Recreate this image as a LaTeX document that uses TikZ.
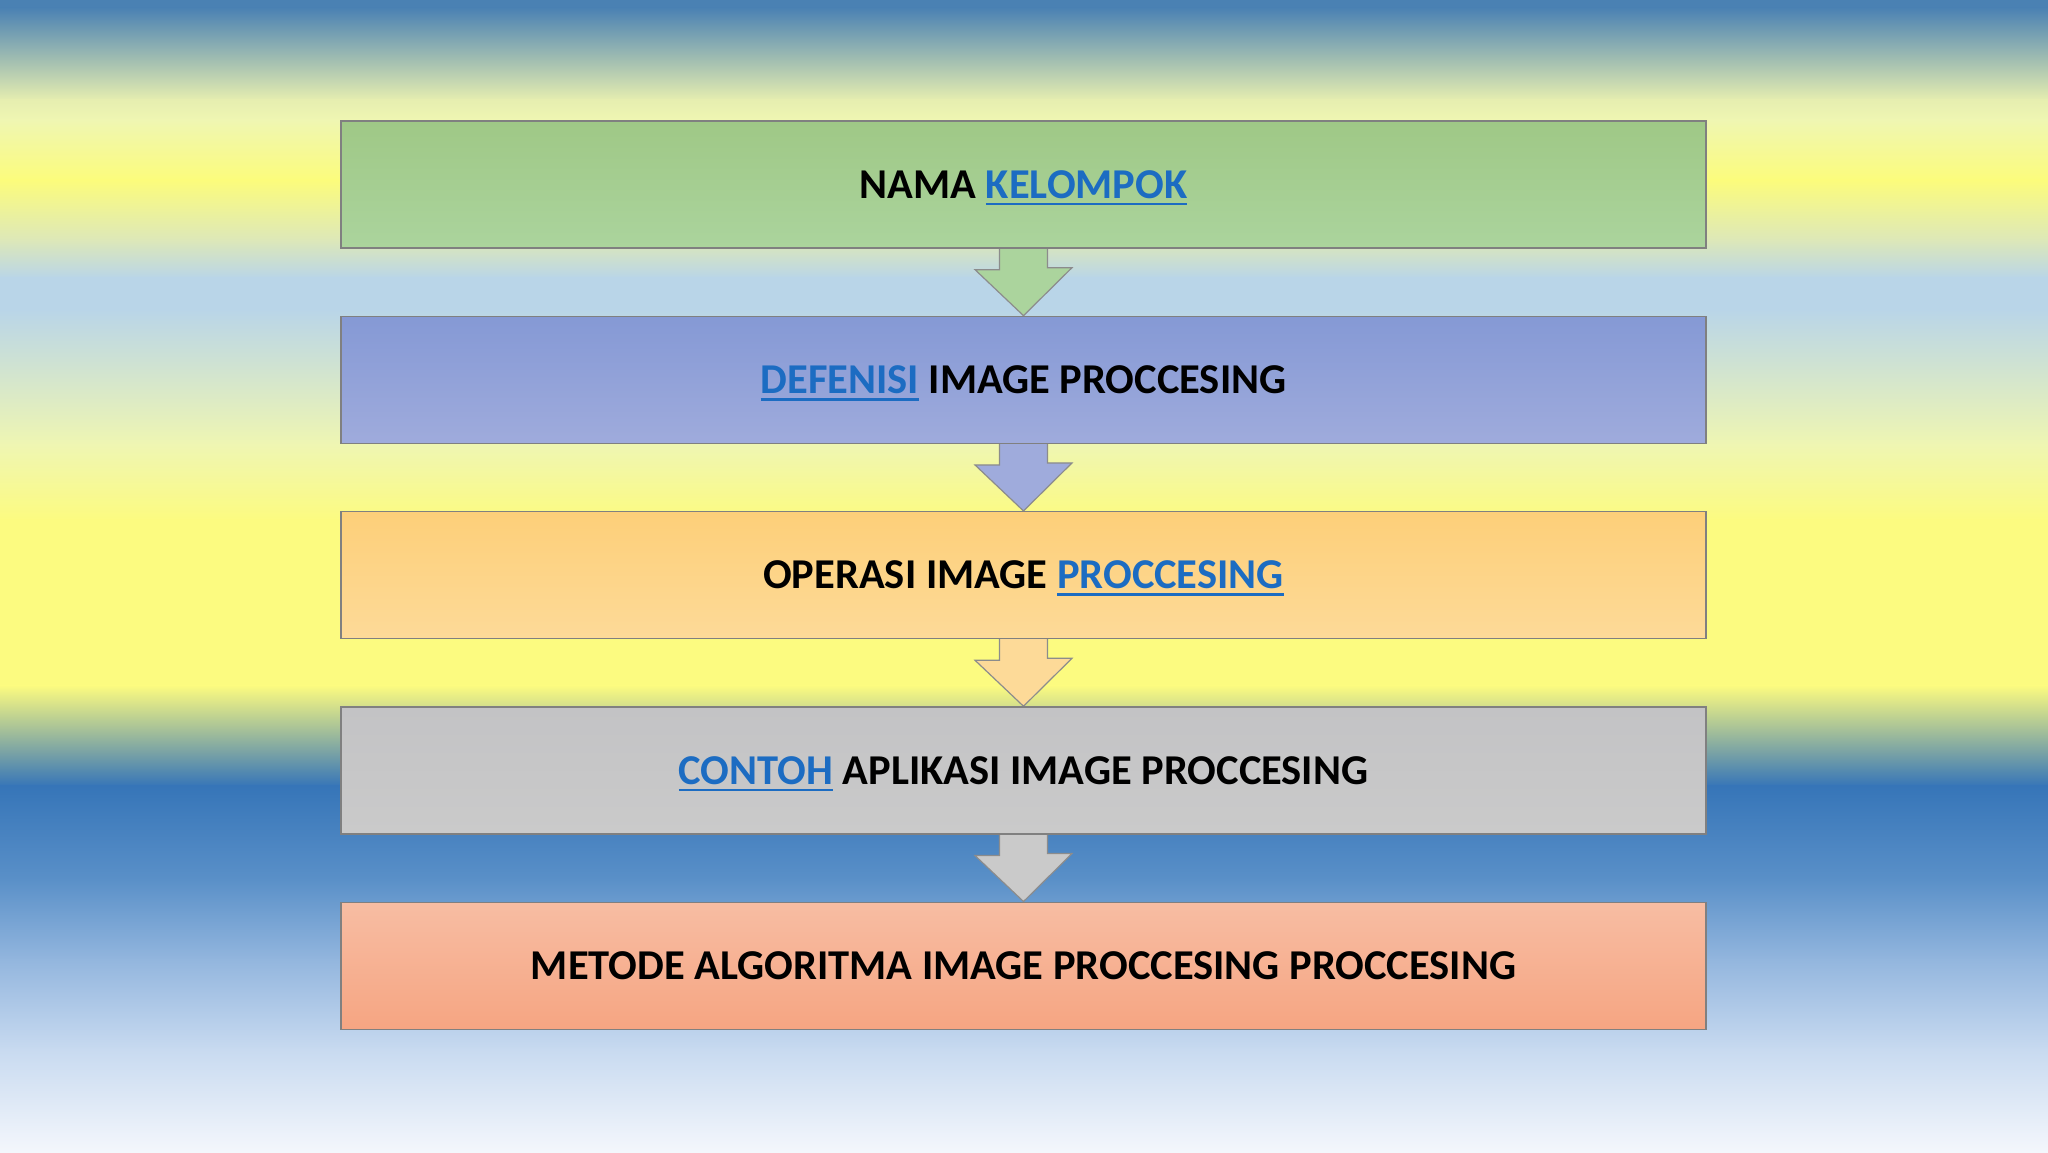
\documentclass[tikz,border=0pt]{standalone}
\usepackage{fontspec}
\setmainfont{Carlito}
\usetikzlibrary{positioning}
\definecolor{linkblue}{HTML}{1C6CC2}
\definecolor{bgBlue}{HTML}{4A81B3}
\definecolor{bgPale}{HTML}{E6EEB0}
\definecolor{bgCream}{HTML}{EFF6B2}
\definecolor{bgYellow}{HTML}{FCFC7C}
\definecolor{bgMint}{HTML}{DDE8B8}
\definecolor{bgSky}{HTML}{B9D5E8}
\definecolor{bgLemon}{HTML}{FCFB80}
\definecolor{bgDeep}{HTML}{3675B8}
\definecolor{bgMid}{HTML}{5A90C8}
\definecolor{bgLight}{HTML}{93B6DE}
\definecolor{bgPaleBlue}{HTML}{C8DAF0}
\definecolor{bgWhite}{HTML}{F4F7FC}
\definecolor{greenTop}{HTML}{9FC886}
\definecolor{greenBot}{HTML}{ABD49D}
\definecolor{blueTop}{HTML}{8599D5}
\definecolor{blueBot}{HTML}{9FABDC}
\definecolor{orangeTop}{HTML}{FDCF79}
\definecolor{orangeBot}{HTML}{FDDA98}
\definecolor{grayTop}{HTML}{C3C3C5}
\definecolor{grayBot}{HTML}{CACACA}
\definecolor{salmonTop}{HTML}{F7BDA3}
\definecolor{salmonBot}{HTML}{F6A582}
\pgfdeclarelayer{bg}
\pgfdeclarelayer{arrows}
\pgfsetlayers{bg,arrows,main}
\newcommand{\lnk}[1]{{\color{linkblue}\setbox0\hbox{#1}\rlap{\smash{\rule[-7pt]{\wd0}{2.6pt}}}\box0}}
\begin{document}
\begin{tikzpicture}[x=1pt,y=-1pt,
  stage/.style 2 args={draw=black!50, line width=1.3pt, top color=#1, bottom color=#2,
    minimum width=1365pt, minimum height=127pt, inner sep=0pt,
    font=\fontsize{42.5}{46}\selectfont\bfseries},
  blockarr/.style={fill=#1, draw=black!45, line width=1.2pt, line join=miter}]
\useasboundingbox (0,0) rectangle (2048,1152);

% background bands
\begin{pgfonlayer}{bg}
\foreach \ya/\yb/\ca/\cb in {0/8/bgBlue/bgBlue, 8/100/bgBlue/bgPale, 100/120/bgPale/bgCream,
    120/180/bgCream/bgYellow, 180/240/bgYellow/bgMint, 240/278/bgMint/bgSky,
    278/310/bgSky/bgSky, 310/445/bgSky/bgCream, 445/520/bgCream/bgLemon,
    520/686/bgLemon/bgLemon, 686/786/bgLemon/bgDeep, 786/880/bgDeep/bgMid,
    880/960/bgMid/bgLight, 960/1050/bgLight/bgPaleBlue, 1050/1152/bgPaleBlue/bgWhite}
  \shade[top color=\ca, bottom color=\cb] (-1,\ya-0.5) rectangle (2049,\yb+0.5);
\end{pgfonlayer}

% stages
\node[stage={greenTop}{greenBot}] (nama) at (1023.5,184.5) {NAMA \lnk{KELOMPOK}};
\node[stage={blueTop}{blueBot}, below=67pt of nama] (defenisi) {\lnk{DEFENISI} IMAGE PROCCESING};
\node[stage={orangeTop}{orangeBot}, below=67pt of defenisi] (operasi) {OPERASI IMAGE \lnk{PROCCESING}};
\node[stage={grayTop}{grayBot}, below=67pt of operasi] (contoh) {\lnk{CONTOH} APLIKASI IMAGE PROCCESING};
\node[stage={salmonTop}{salmonBot}, below=67pt of contoh] (metode) {METODE ALGORITMA IMAGE PROCCESING PROCCESING};

% arrows between stages
\begin{pgfonlayer}{arrows}
\foreach \a/\b/\c in {nama/defenisi/greenBot, defenisi/operasi/blueBot,
    operasi/contoh/orangeBot, contoh/metode/grayBot}
  \draw[blockarr=\c] (\a.south) ++(-24,-6) -- ++(0,27) -- ++(-24.5,0) -- (\b.north)
    -- ++(48.5,-48) -- ++(-24.5,0) -- ++(0,-27) -- cycle;
\end{pgfonlayer}
\end{tikzpicture}
\end{document}
